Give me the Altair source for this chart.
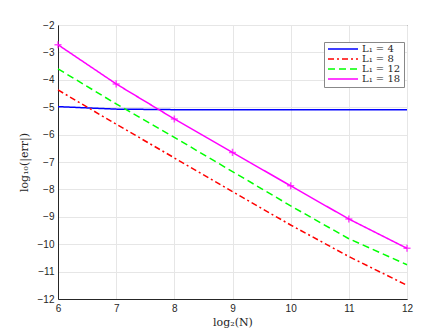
import altair as alt
import pandas as pd

x_vals = [6, 7, 8, 9, 10, 11, 12]
y_ticks = [-12, -11, -10, -9, -8, -7, -6, -5, -4, -3, -2]
series_names = ["L₁ = 4", "L₁ = 8", "L₁ = 12", "L₁ = 18"]
err_L4 = [-4.98, -5.07, -5.09, -5.09, -5.09, -5.09, -5.09]
err_L8 = [-4.37, -5.62, -6.85, -8.08, -9.30, -10.45, -11.50]
err_L12 = [-3.60, -4.88, -6.10, -7.35, -8.60, -9.80, -10.75]
err_L18 = [-2.72, -4.15, -5.43, -6.65, -7.87, -9.08, -10.15]
colors = ["#0000ff", "#ff0000", "#00ff00", "#ff00ff"]
dashes = [[1, 0], [6, 3, 2, 3], [7, 4], [1, 0]]

rows = []
for name, vals in zip(series_names, [err_L4, err_L8, err_L12, err_L18]):
    for x, v in zip(x_vals, vals):
        rows.append({"x": x, "y": v, "s": name})
df = pd.DataFrame(rows)

xs = alt.Scale(domain=[6, 12], nice=False)
ys = alt.Scale(domain=[-12, -2], nice=False)

xaxis = alt.Axis(title="log₂(N)", values=x_vals, format="d", grid=True, ticks=False,
                 labelOverlap=False, labelFlush=False,
                 labelFont="Liberation Sans", labelFontSize=10, labelColor="#262626",
                 titleFont="DejaVu Serif", titleFontWeight="normal", titleFontSize=11,
                 titleColor="#262626", labelPadding=4, titlePadding=3,
                 domainColor="#262626", gridColor="#e6e6e6")
yaxis = alt.Axis(title="log₁₀(|err|)", values=y_ticks, format="d", grid=True,
                 ticks=False, labelOverlap=False, labelFlush=False,
                 labelFont="Liberation Sans", labelFontSize=10, labelColor="#262626",
                 titleFont="DejaVu Serif", titleFontWeight="normal", titleFontSize=11,
                 titleColor="#262626", labelPadding=4, titlePadding=8,
                 domainColor="#262626", gridColor="#e6e6e6")

color = alt.Color("s:N", scale=alt.Scale(domain=series_names, range=colors),
                  legend=alt.Legend(title=None, orient="none", legendX=266, legendY=17,
                                    strokeColor="#888888", fillColor="white", padding=3,
                                    labelFont="DejaVu Serif", labelFontSize=10,
                                    labelColor="#262626", symbolType="stroke",
                                    symbolSize=900, symbolStrokeWidth=1.5, rowPadding=0,
                                    clipHeight=8, labelOffset=3, cornerRadius=0))
dash = alt.StrokeDash("s:N", scale=alt.Scale(domain=series_names, range=dashes), legend=None)

lines = alt.Chart(df).mark_line(strokeWidth=1.5).encode(
    x=alt.X("x:Q", scale=xs, axis=xaxis),
    y=alt.Y("y:Q", scale=ys, axis=yaxis),
    color=color,
    strokeDash=dash,
    detail="s:N",
)

pts = alt.Chart(df).transform_filter(alt.datum.s == series_names[3]).mark_point(
    shape="M-1,0H1M0,-1V1", filled=False, size=50, strokeWidth=1.5, color="#ff00ff"
).encode(
    x=alt.X("x:Q", scale=xs, axis=xaxis),
    y=alt.Y("y:Q", scale=ys, axis=yaxis),
)

chart = alt.layer(lines, pts).properties(
    width=349, height=274,
    autosize=alt.AutoSizeParams(type="none"),
    padding={"left": 50, "top": 17, "right": 20, "bottom": 36},
).configure_view(stroke="#262626", strokeWidth=1)

chart.save("out.html", embed_options={"renderer": "svg", "actions": False})
